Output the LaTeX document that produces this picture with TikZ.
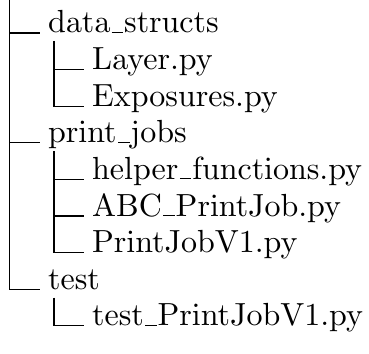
\documentclass[tikz,border=0pt]{standalone}
% Computer Modern at 10pt design size, enlarged
\font\treefont=cmr10 at 32pt
% underscore as a rule of the same weight as the tree lines
\renewcommand{\_}{\leavevmode\kern.04em\vbox{\hrule height 1.1pt width .36em}\kern.03em}
\begin{document}
\begin{tikzpicture}[x=1pt,y=-1pt,
  branch/.style={line width=1.1pt},
  entry/.style={anchor=base west,inner sep=0pt,font=\treefont}]
\useasboundingbox (0,0) rectangle (369,353);
% top level entries
\node[entry] (ds) at (48,33) {data\_structs};
\node[entry] (pj) at (48,142.8) {print\_jobs};
\node[entry] (ts) at (48,289.2) {test};
% second level entries
\node[entry] (l1) at (92,69.6) {Layer.py};
\node[entry] (l2) at (92,106.2) {Exposures.py};
\node[entry] (h1) at (92,179.4) {helper\_functions.py};
\node[entry] (h2) at (92,216) {ABC\_PrintJob.py};
\node[entry] (h3) at (92,252.6) {PrintJobV1.py};
\node[entry] (t1) at (92,325.8) {test\_PrintJobV1.py};
% root stem
\coordinate (root) at (9.5,0);
\draw[branch] (root) |- ([xshift=-8pt]ts.base west);
\draw[branch] (root |- ds.base) -- ([xshift=-8pt]ds.base west);
\draw[branch] (root |- pj.base) -- ([xshift=-8pt]pj.base west);
% sub stems
\coordinate (s1) at (54,41);
\coordinate (s2) at (54,151);
\coordinate (s3) at (54,297.5);
\draw[branch] (s1) |- ([xshift=-8pt]l2.base west);
\draw[branch] (s1 |- l1.base) -- ([xshift=-8pt]l1.base west);
\draw[branch] (s2) |- ([xshift=-8pt]h3.base west);
\draw[branch] (s2 |- h1.base) -- ([xshift=-8pt]h1.base west);
\draw[branch] (s2 |- h2.base) -- ([xshift=-8pt]h2.base west);
\draw[branch] (s3) |- ([xshift=-8pt]t1.base west);
\end{tikzpicture}
\end{document}
